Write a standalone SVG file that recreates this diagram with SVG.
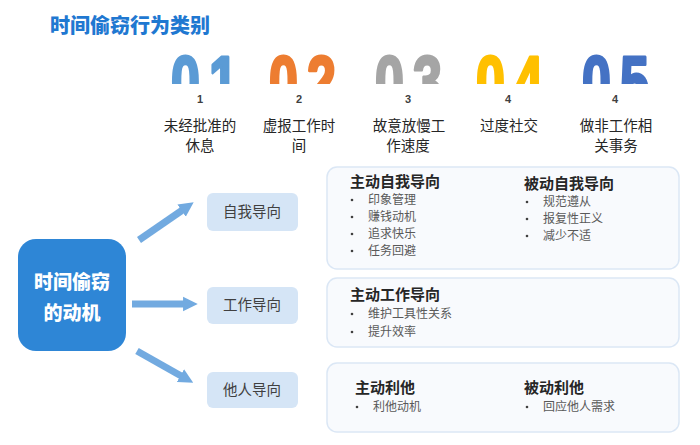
<svg xmlns="http://www.w3.org/2000/svg" width="700" height="445" viewBox="0 0 700 445">
<style>
.cjk{font-family:"Noto Sans CJK SC","Noto Sans",sans-serif}
.title{font-size:20px;font-weight:900;fill:#1f78d1;stroke:#ffffff;stroke-width:0.6px;paint-order:stroke}
.big{font-family:"Liberation Sans",Arial,sans-serif;font-weight:bold;font-size:52px;letter-spacing:9px;stroke-width:2.2px;stroke-linejoin:round}
.num{font-family:"Liberation Sans",Arial,sans-serif;font-weight:bold;font-size:11px;fill:#404040;text-anchor:middle}
.lab{font-size:14.5px;fill:#262626;text-anchor:middle}
.mid{fill:#d5e5f6}
.midt{font-size:14.5px;fill:#404040;text-anchor:middle}
.card{fill:#f8fafd;stroke:#dbe7f5;stroke-width:1.5px}
.head{font-size:15px;font-weight:bold;fill:#262626}
.item{font-size:12px;fill:#595959}
.dot{fill:#404040}
.arr{stroke:#72aae0;stroke-width:7px;fill:none}
</style>
<defs>
<clipPath id="cut" clipPathUnits="userSpaceOnUse"><rect x="150" y="40" width="520" height="44"/></clipPath>
<marker id="ah" viewBox="0 0 10 10" refX="2" refY="5" markerWidth="2.1" markerHeight="2.3" orient="auto" markerUnits="strokeWidth">
<path d="M0,0 L10,5 L0,10 z" fill="#72aae0"/>
</marker>
</defs>

<text class="cjk title" x="50" y="33">时间偷窃行为类别</text>

<g id="digits" clip-path="url(#cut)">
<text class="big" fill="#5b9bd5" stroke="#5b9bd5" transform="translate(171,107) scale(1,1.4)">01</text>
<text class="big" fill="#ed7d31" stroke="#ed7d31" transform="translate(269,107) scale(1,1.4)">02</text>
<text class="big" fill="#a5a5a5" stroke="#a5a5a5" transform="translate(375,107) scale(1,1.4)">03</text>
<text class="big" fill="#ffc000" stroke="#ffc000" transform="translate(476,107) scale(1,1.4)">04</text>
<text class="big" fill="#4472c4" stroke="#4472c4" transform="translate(582,107) scale(1,1.4)">05</text>
</g>

<g id="cat1"><text class="num" x="200" y="103">1</text><text class="cjk lab" x="200" y="131">未经批准的</text><text class="cjk lab" x="200" y="151">休息</text></g>
<g id="cat2"><text class="num" x="299" y="103">2</text><text class="cjk lab" x="299" y="131">虚报工作时</text><text class="cjk lab" x="299" y="151">间</text></g>
<g id="cat3"><text class="num" x="408" y="103">3</text><text class="cjk lab" x="409" y="131">故意放慢工</text><text class="cjk lab" x="408" y="151">作速度</text></g>
<g id="cat4"><text class="num" x="508" y="103">4</text><text class="cjk lab" x="509" y="131">过度社交</text></g>
<g id="cat5"><text class="num" x="615" y="103">4</text><text class="cjk lab" x="616" y="131">做非工作相</text><text class="cjk lab" x="616" y="151">关事务</text></g>

<g id="motive">
<rect x="18" y="239" width="108" height="112" rx="18" fill="#2e86d6"/>
<text class="cjk" x="72" y="289" font-size="19" font-weight="900" fill="#ffffff" text-anchor="middle">时间偷窃</text>
<text class="cjk" x="72" y="320" font-size="19" font-weight="900" fill="#ffffff" text-anchor="middle">的动机</text>
</g>

<g id="connectors">
<line class="arr" x1="139" y1="240" x2="184" y2="209" marker-end="url(#ah)"/>
<line class="arr" x1="132" y1="304" x2="186" y2="304" marker-end="url(#ah)"/>
<line class="arr" x1="137" y1="351" x2="183" y2="377" marker-end="url(#ah)"/>
</g>

<g id="self"><rect class="mid" x="207" y="193" width="91" height="38" rx="6"/><text class="cjk midt" x="252" y="217">自我导向</text></g>
<g id="work"><rect class="mid" x="207" y="287" width="91" height="37" rx="6"/><text class="cjk midt" x="252" y="310">工作导向</text></g>
<g id="other"><rect class="mid" x="207" y="372" width="91" height="36" rx="6"/><text class="cjk midt" x="252" y="395">他人导向</text></g>

<g id="card-self">
<rect class="card" x="327" y="167" width="352" height="102" rx="10"/>
<text class="cjk head" x="350" y="187">主动自我导向</text>
<circle class="dot" cx="352" cy="200" r="1.3"/><text class="cjk item" x="368" y="204">印象管理</text>
<circle class="dot" cx="352" cy="217" r="1.3"/><text class="cjk item" x="368" y="221">赚钱动机</text>
<circle class="dot" cx="352" cy="234" r="1.3"/><text class="cjk item" x="368" y="238">追求快乐</text>
<circle class="dot" cx="352" cy="251" r="1.3"/><text class="cjk item" x="368" y="255">任务回避</text>
<text class="cjk head" x="524" y="189">被动自我导向</text>
<circle class="dot" cx="527" cy="202" r="1.3"/><text class="cjk item" x="543" y="206">规范遵从</text>
<circle class="dot" cx="527" cy="219" r="1.3"/><text class="cjk item" x="543" y="223">报复性正义</text>
<circle class="dot" cx="527" cy="236" r="1.3"/><text class="cjk item" x="543" y="240">减少不适</text>
</g>

<g id="card-work">
<rect class="card" x="327" y="278" width="352" height="69" rx="10"/>
<text class="cjk head" x="350" y="300">主动工作导向</text>
<circle class="dot" cx="352" cy="314" r="1.3"/><text class="cjk item" x="368" y="318">维护工具性关系</text>
<circle class="dot" cx="352" cy="332" r="1.3"/><text class="cjk item" x="368" y="336">提升效率</text>
</g>

<g id="card-other">
<rect class="card" x="327" y="363" width="352" height="69" rx="10"/>
<text class="cjk head" x="355" y="393">主动利他</text>
<circle class="dot" cx="357" cy="407" r="1.3"/><text class="cjk item" x="373" y="411">利他动机</text>
<text class="cjk head" x="524" y="393">被动利他</text>
<circle class="dot" cx="527" cy="407" r="1.3"/><text class="cjk item" x="543" y="411">回应他人需求</text>
</g>
</svg>
